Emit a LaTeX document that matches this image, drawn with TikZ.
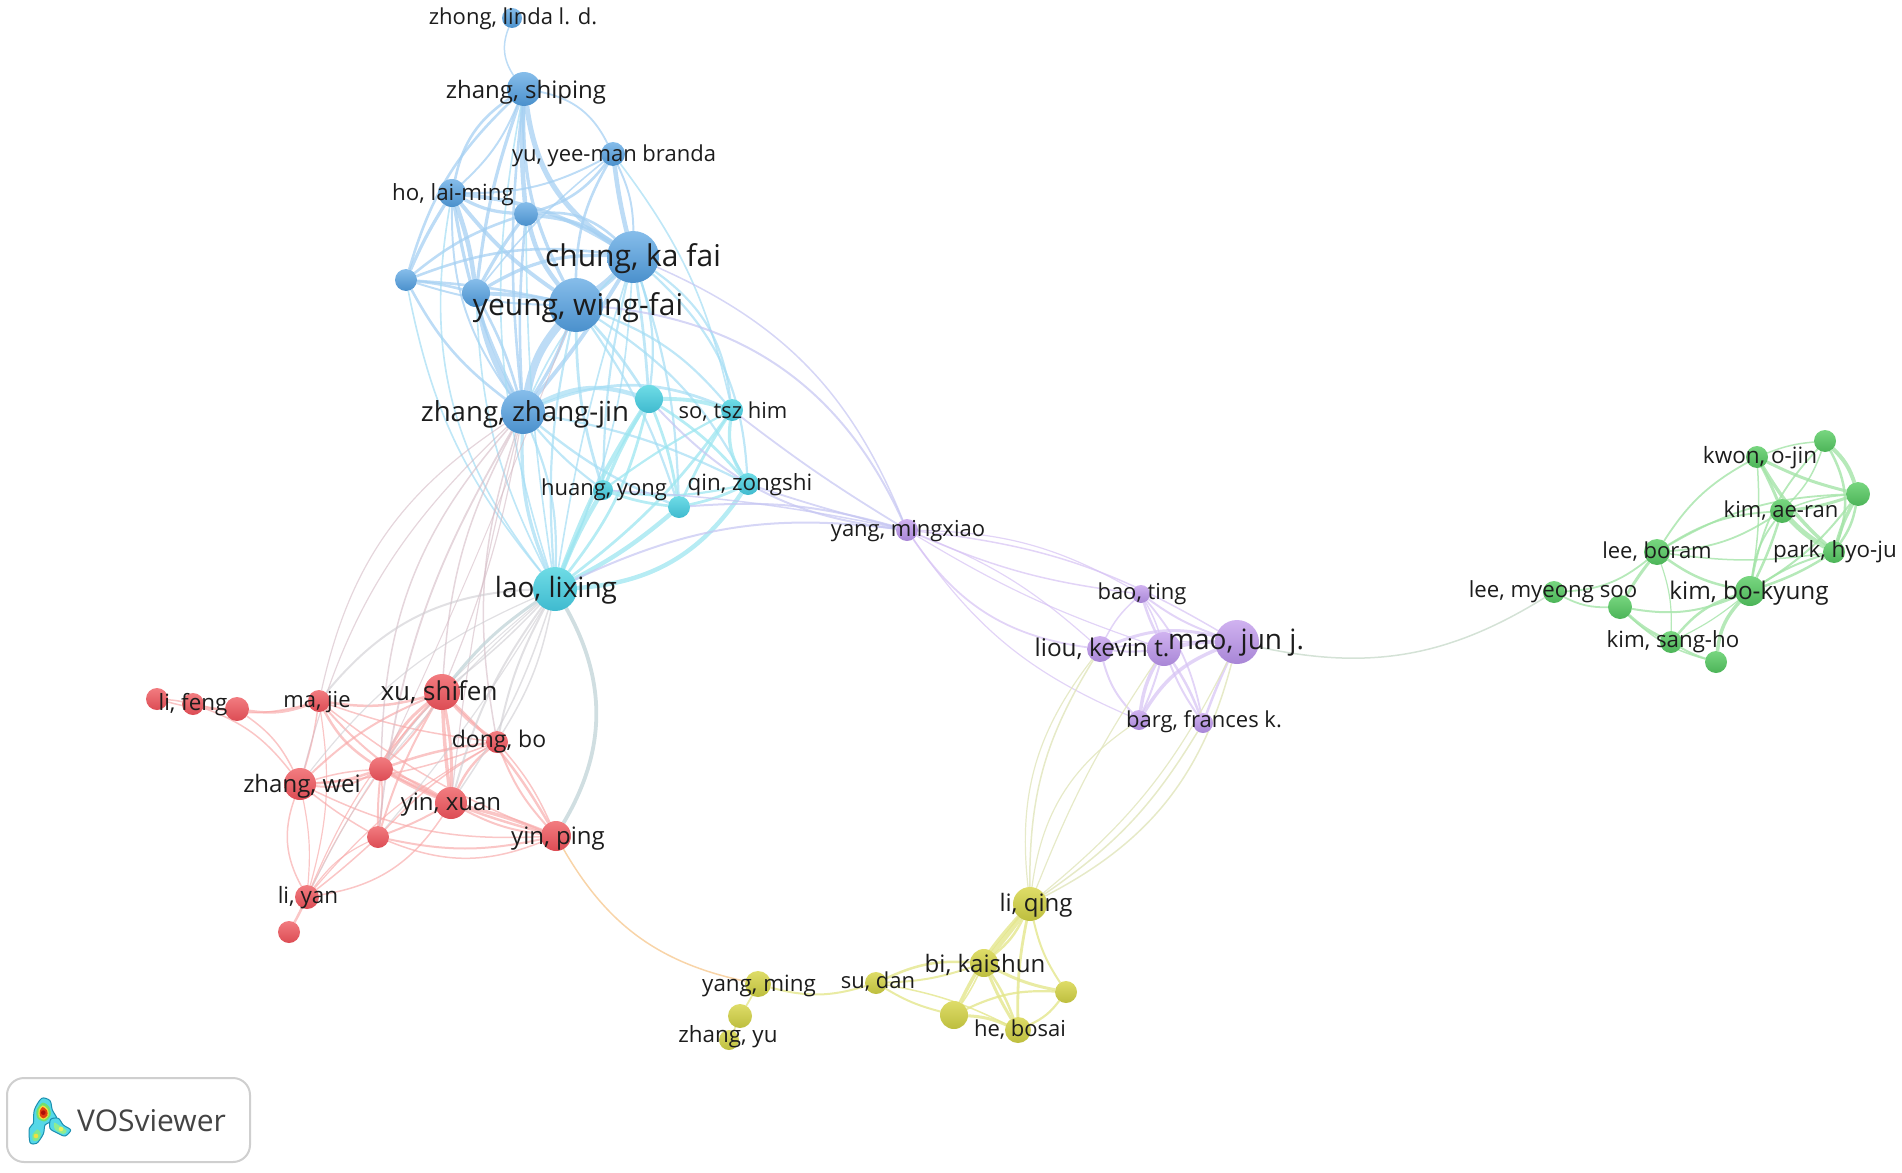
\documentclass[tikz,border=0pt]{standalone}
\usepackage{fontspec}
\setmainfont{Open Sans}
\pgfdeclarelayer{edges}
\pgfsetlayers{edges,main}
\newcommand{\hc}[1]{\definecolor{#1}{HTML}{#1}}
\definecolor{ink}{HTML}{1C1C1C}
\hc{86BDEA}\hc{4A90CC}\hc{6FDCE6}\hc{3FBACF}\hc{F27C80}\hc{DC4C54}\hc{78D680}\hc{4CB458}\hc{DEDC68}\hc{BDBE3E}\hc{D0B2F0}\hc{A886D6}
\hc{A4CFF2}\hc{A4DDF4}\hc{9DE6F0}\hc{F8A8A8}\hc{CFCDD2}\hc{D4BAC4}\hc{A4E4A8}\hc{E4E68C}\hc{D6C2F4}\hc{C6C6F2}\hc{E2E6BE}\hc{F8D4A8}\hc{D4E2D6}\hc{1C8FB0}
\hc{CFCFCF}\hc{444444}\hc{55D8E8}\hc{70E070}\hc{F0E040}\hc{E04010}\hc{B01008}\hc{80E890}\hc{90EC90}\hc{E8F060}\hc{C4D6DA}
\tikzset{
  x=1pt,y=-1pt,
  ball/.style={circle,inner sep=0pt,outer sep=0pt,draw=none},
  nblue/.style={ball,top color=86BDEA,bottom color=4A90CC},
  ncyan/.style={ball,top color=6FDCE6,bottom color=3FBACF},
  nred/.style={ball,top color=F27C80,bottom color=DC4C54},
  ngreen/.style={ball,top color=78D680,bottom color=4CB458},
  nyellow/.style={ball,top color=DEDC68,bottom color=BDBE3E},
  npurple/.style={ball,top color=D0B2F0,bottom color=A886D6},
  lbl/.style={inner sep=0pt,text=ink},
  eblue/.style={draw=A4CFF2,opacity=.72},
  ebc/.style={draw=A4DDF4,opacity=.7},
  ecyan/.style={draw=9DE6F0,opacity=.75},
  ered/.style={draw=F8A8A8,opacity=.66},
  egrey/.style={draw=CFCDD2,opacity=.62},
  eteal/.style={draw=C4D6DA,opacity=.8},
  erb/.style={draw=D4BAC4,opacity=.6},
  egreen/.style={draw=A4E4A8,opacity=.8},
  eyellow/.style={draw=E4E68C,opacity=.8},
  epurple/.style={draw=D6C2F4,opacity=.7},
  ebp/.style={draw=C6C6F2,opacity=.72},
  eyp/.style={draw=E2E6BE,opacity=.85},
  eorange/.style={draw=F8D4A8},
  epg/.style={draw=D4E2D6},
  logoedge/.style={draw=1C8FB0,line width=1pt},
}
\newcommand{\ewf}{1}
\newcommand{\edgeset}[2]{\foreach \ea/\eb/\ew/\ek in {#2} {\draw[#1,line width={\ewf*\ew pt}] (\ea) to[bend left=\ek] (\eb);}}
\begin{document}
\begin{tikzpicture}
\useasboundingbox (0,0) rectangle (1902,1172);
% nodes
\foreach \nn/\px/\py/\rr/\st in {
 zl/512/18/10/nblue, zs/524/89/17/nblue, yy/613/154/12/nblue, hl/452/193/14/nblue,
 bn/526/214/12/nblue, ck/633/257/26/nblue, yw/576/305/27/nblue, ba/406/280/11/nblue,
 bb/476/293/14/nblue, zz/523/412/22/nblue,
 cc/649/399/14/ncyan, st/732/410/11/ncyan, hy/603/490/10/ncyan, cd/679/507/11/ncyan,
 qz/748/484/11/ncyan, ll/555/589/22/ncyan,
 lfa/157/699/11/nred, lf/193/704/11/nred, lfb/237/709/12/nred, mj/319/701/11/nred,
 xs/442/692/18/nred, dg/497/742/11/nred, ra/381/769/12/nred, zw/300/784/16/nred,
 yx/451/803/16/nred, rb/378/837/11/nred, yp/556/836/15/nred, ly/307/897/12/nred, rc/289/932/11/nred,
 ym/907/530/11/npurple, bt/1141/594/9/npurple, lk/1100/649/13/npurple, pk/1164/649/17/npurple,
 mm/1237/642/22/npurple, bg/1139/720/10/npurple, fr/1203/723/10/npurple,
 lq/1030/904/17/nyellow, bk/984/963/14/nyellow, ya/1066/992/11/nyellow, hb/1018/1030/13/nyellow,
 yb/954/1015/14/nyellow, sd/876/983/11/nyellow, ymg/758/984/13/nyellow, yc/740/1016/12/nyellow, zy/729/1040/10/nyellow,
 ga/1825/441/11/ngreen, kw/1757/457/11/ngreen, gb/1858/494/12/ngreen, ka/1782/511/12/ngreen,
 pa/1834/552/11/ngreen, lb/1657/552/13/ngreen, kb/1750/591/15/ngreen, lm/1554/592/11/ngreen,
 gc/1620/607/12/ngreen, ks/1671/642/11/ngreen, gd/1716/662/11/ngreen}
 {\node[\st,minimum size=2*\rr pt] (\nn) at (\px,\py) {};}
% connectors
\begin{pgfonlayer}{edges}
\renewcommand{\ewf}{1.3}
\edgeset{eblue}{zs/hl/2/-22, zs/ba/2/-15, zs/bb/2.5/-6, zs/bn/3.5/-4, zs/ck/4/-24, zs/yw/2.5/-14, zs/zz/2/-6, zs/yy/1.4/26,
 zs/hl/1.5/12,
 yy/bn/2/18, yy/hl/1.5/14, yy/ck/3.5/-3, yy/ck/1.5/12, yy/yw/2/-14, yy/bb/1.2/-6,
 hl/bn/2.5/-12, hl/ck/3/12, hl/yw/3/-8, hl/bb/3.5/6, hl/ba/2.5/-4, hl/zz/2.5/-8, hl/zz/1.5/-18,
 bn/ck/3/14, bn/yw/3.5/-12, bn/bb/2.5/-4, bn/ba/2/-10, bn/zz/2/-4, bn/ck/2/24,
 ba/ck/2/14, ba/yw/2/4, ba/bb/2/4, ba/zz/2/-12, ba/yw/1.5/-8,
 bb/ck/2.5/16, bb/yw/3/4, bb/zz/4/-10, bb/zz/2/6,
 ck/yw/5/4, yw/zz/6/-14, ck/zz/3/4, yw/zz/2.5/6}
\renewcommand{\ewf}{1.1}
\edgeset{ebc}{ck/cc/2.5/2, ck/cc/2/12, ck/st/2/24, ck/qz/2/22, ck/hy/2/-6, ck/cd/2/8, ck/zz/1.5/-10,
 yw/st/2/14, yw/cc/2.5/4, yw/hy/2.5/-8, yw/cd/2/8, yw/qz/2/14, yw/ll/2/-8, ck/ll/1.5/-4, ck/ll/1.5/10,
 zz/cc/4/22, zz/st/2.5/22, zz/qz/2/8, zz/hy/2/-6, zz/cd/2.2/-8, zz/ll/3/-12, zz/ll/2/12,
 bb/ll/1.5/-12, ba/ll/1.5/-14, hl/ll/1.5/-24, bn/ll/1.5/-4, yy/st/1.5/12, zs/ll/1.5/-14}
\edgeset{ecyan}{cc/st/3.5/8, cc/hy/3/-4, cc/cd/2.5/6, cc/qz/2.5/8, cc/ll/4/-6, st/hy/2/-4, st/cd/2.5/-4, st/qz/3/-20, st/ll/2.5/8,
 hy/cd/2.5/-6, hy/qz/2/-10, hy/ll/4/-4, cd/qz/2.5/-6, cd/ll/4/6, qz/ll/4/26, cc/ll/2.5/12}
\renewcommand{\ewf}{1}
\edgeset{eblue}{zl/zs/1.5/-28}
\edgeset{ebp}{yw/ym/2/30, cc/ym/2/-20, st/ym/1.8/-3, qz/ym/1.8/-2, cd/ym/2/10, hy/ym/1.5/4, ll/ym/2/16, ck/ym/1.5/22}
\edgeset{ered}{lfa/lf/1.5/4, lf/lfb/2/-6, lfa/lfb/1.5/-8, lfb/mj/2.5/-14, lf/mj/1.5/-14, lfb/zw/1.5/14, lf/zw/1.5/16, mj/zw/1.5/4,
 mj/xs/2.5/-12, mj/ra/2.5/-14, mj/yx/2/-10, mj/dg/1.5/-6, mj/yp/1.5/-8, mj/ly/1.2/12,
 xs/dg/3/-6, xs/ra/3/-14, xs/ra/2.5/-6, xs/ra/2/6, xs/zw/2/-10, xs/yx/3.5/-2, xs/yx/3/6, xs/rb/2/-6, xs/yp/2.5/8, xs/ly/1.2/-10,
 dg/ra/2.5/-6, dg/zw/1.5/8, dg/yx/2.5/-12, dg/rb/1.5/-8, dg/yp/2/-10, dg/yp/1.5/8, dg/ly/1.2/-10,
 ra/zw/2.5/8, ra/zw/2/18, ra/zw/1.5/-6, ra/yx/3/-4, ra/yx/2/6, ra/rb/2/-3, ra/rb/1.5/6, ra/yp/2.5/-6, ra/ly/1.2/-4,
 zw/rb/1.5/-4, zw/yp/1.5/-14, zw/ly/1.5/-24, zw/ly/1.2/8,
 yx/rb/2/4, yx/yp/3.5/4, yx/yp/2/-10, yx/ly/1.5/24, rb/yp/2/-12, rb/yp/1.5/-22, rb/ly/1.5/2, rb/ly/1.2/-14, ly/rc/2.5/2}
\edgeset{erb}{zz/zw/1.2/-16, zz/mj/1.2/-22, zz/rb/1.8/-12, zz/ra/1.5/-20, zz/xs/1.5/-12, zz/xs/1.2/6, zz/yx/1.2/-4, zz/dg/1.5/-14, yw/ra/1/2}
\edgeset{egrey}{ll/xs/1.5/4, ll/mj/2/-24, ll/zw/1.2/-14, ll/dg/1.5/10, ll/dg/2/-8, ll/yx/1.5/8, ll/ra/1.2/-4, ll/rb/1.2/4, ll/yx/2/-10, ll/ly/1/-12}
\edgeset{eteal}{ll/xs/3/-8, ll/yp/3.8/30}
\edgeset{eorange}{yp/ymg/1.5/-24}
\edgeset{epurple}{ym/bt/1.5/-8, ym/bt/1.2/14, ym/lk/1.8/-24, ym/pk/1.2/-6, ym/lk/1.2/10, ym/mm/1.5/12, ym/bg/1.2/-16, bt/lk/1.5/-10, bt/pk/2.5/-4, bt/pk/1.5/6, bt/mm/2/-8,
 lk/pk/2/-6, lk/mm/3/18, pk/mm/4/6, lk/bg/2/-14, pk/bg/3.5/-10, pk/bg/2/4, pk/fr/2.5/6, pk/fr/2/-6, mm/bg/3.5/-18, mm/fr/2.5/-2, bt/fr/1.8/14, lk/mm/1.5/4}
\edgeset{eyp}{lq/lk/1.5/16, lq/pk/1.2/6, lq/mm/1.5/-24, lq/fr/1.5/-12, lq/bg/1.2/24, lq/mm/1.2/-12, lq/lk/1.2/22}
\edgeset{eyellow}{lq/bk/5/2, lq/bk/2.5/12, lq/ya/2/-10, lq/hb/2.8/-6, lq/yb/3.5/-8, bk/hb/3/-4, bk/hb/2.5/6, bk/yb/1.5/4, bk/ya/3/-8, yb/hb/3/10, yb/ya/2.2/14, ya/hb/2.2/14,
 sd/bk/2.5/14, sd/bk/2/-8, sd/yb/2/-8, sd/hb/1.5/8, ymg/sd/2/-16, ymg/yc/1.8/2, yc/zy/1.5/2}
\edgeset{epg}{mm/lm/1.5/-22}
\edgeset{egreen}{kw/ga/1.5/8, kw/gb/3/-6, kw/ka/3/2, kw/pa/3.5/-8, kw/kb/1.5/6, kw/lb/1.8/-14, ga/gb/4/14, ga/pa/2.5/24, ga/ka/1.5/12, ga/kb/1.8/-16,
 gb/ka/3/6, gb/pa/3.5/-6, gb/pa/2.5/12, gb/lb/1.8/-14, gb/kb/2/10, gb/ka/1.5/-8, ka/pa/5/-8, ka/kb/2.5/4, ka/kb/1.8/-14, ka/lb/1.8/14, ka/lb/1.8/-14, pa/kb/2.5/6, pa/kb/2/-8, lb/kb/2.5/-12, lb/pa/1.5/-8,
 lb/lm/1.8/18, lb/gc/3/-4, lb/ks/1.2/10, lm/gc/1.8/-14, gc/kb/2/-16, gc/ks/3/-8, gc/gd/1.5/-14, ks/gd/2/-6, ks/kb/2.5/16, gd/kb/3.5/18, ks/kb/1.2/-6}
\end{pgfonlayer}
% labels
\foreach \nn/\px/\py/\sz/\tx in {
 tzl/513/19/22/{zhong, linda l. d.}, tzs/526/92/24/{zhang, shiping}, tyy/614/156/22/{yu, yee-man branda},
 thl/453/195/22.3/{ho, lai-ming}, tck/633/259/30/{chung, ka fai}, tyw/578/308/30/{yeung, wing-fai},
 tzz/525/414/27.6/{zhang, zhang-jin}, tst/733/412/22/{so, tsz him}, thy/604/490/22/{huang, yong},
 tqz/750/485/22.4/{qin, zongshi}, tll/556/590/28/{lao, lixing}, tym/908/531/22/{yang, mingxiao},
 tbt/1142/594/22/{bao, ting}, tlk/1102/649/24.4/{liou, kevin t.}, tmm/1236/643/28/{mao, jun j.},
 tfr/1204/722/22/{barg, frances k.}, tlq/1036/905/24/{li, qing}, tbk/985/965/24/{bi, kaishun},
 thb/1020/1030/22/{he, bosai}, tsd/878/982/22/{su, dan}, tymg/759/986/22.4/{yang, ming}, tzy/728/1037/22.4/{zhang, yu},
 tlf/193/705/22.4/{li, feng}, tmj/317/702/22/{ma, jie}, txs/439/692/26/{xu, shifen}, tdg/499/742/23/{dong, bo},
 tzw/302/786/24/{zhang, wei}, tyx/451/805/24/{yin, xuan}, typ/558/839/24/{yin, ping}, tly/308/898/22.5/{li, yan},
 tkw/1760/458/22.5/{kwon, o-jin}, tka/1781/511/22/{kim, ae-ran}, tpa/1835/552/22.4/{park, hyo-ju}, tlb/1657/552/22/{lee, boram},
 tkb/1749/593/24.3/{kim, bo-kyung}, tlm/1553/592/22.2/{lee, myeong soo}, tks/1673/642/22.3/{kim, sang-ho}}
 {\node[lbl,font=\fontsize{\sz}{\sz}\selectfont] (\nn) at (\px,\py) {\tx};}
% logo
\node[draw=CFCFCF,line width=2pt,rounded corners=17pt,minimum width=243pt,minimum height=84pt,inner sep=0pt,fill=white] (logobox) at (128.5,1120) {};
\node[anchor=west,inner sep=0pt,text=444444,font=\fontsize{30}{30}\selectfont] (logotext) at (77,1121) {VOSviewer};
\begin{scope}[shift={(0,1060)},scale=0.3333]
 \filldraw[fill=55D8E8,logoedge] plot[smooth cycle] coordinates {(125,115) (150,122) (157,150) (170,175) (150,187) (135,195) (130,222) (110,250) (90,247) (88,205) (100,190) (103,150)};
 \filldraw[fill=55D8E8,logoedge] plot[smooth cycle] coordinates {(152,178) (175,175) (190,195) (212,210) (195,228) (170,218) (150,205)};
 \fill[70E070] plot[smooth cycle] coordinates {(128,128) (147,140) (152,165) (135,184) (113,175) (110,150)};
 \fill[F0E040] plot[smooth cycle] coordinates {(128,136) (143,147) (146,166) (132,179) (117,171) (116,150)};
 \fill[E04010] plot[smooth cycle] coordinates {(128,141) (141,151) (142,167) (130,175) (120,167) (120,152)};
 \fill[B01008] (130,158) circle (7);
 \fill[80E890] plot[smooth cycle] coordinates {(112,208) (122,220) (116,240) (100,242) (97,225)};
 \fill[F0E040] (108,228) circle (7);
 \fill[90EC90] plot[smooth cycle] coordinates {(163,188) (180,198) (200,212) (190,222) (165,208)};
 \fill[E8F060] (183,207) circle (7);
\end{scope}
\end{tikzpicture}
\end{document}
